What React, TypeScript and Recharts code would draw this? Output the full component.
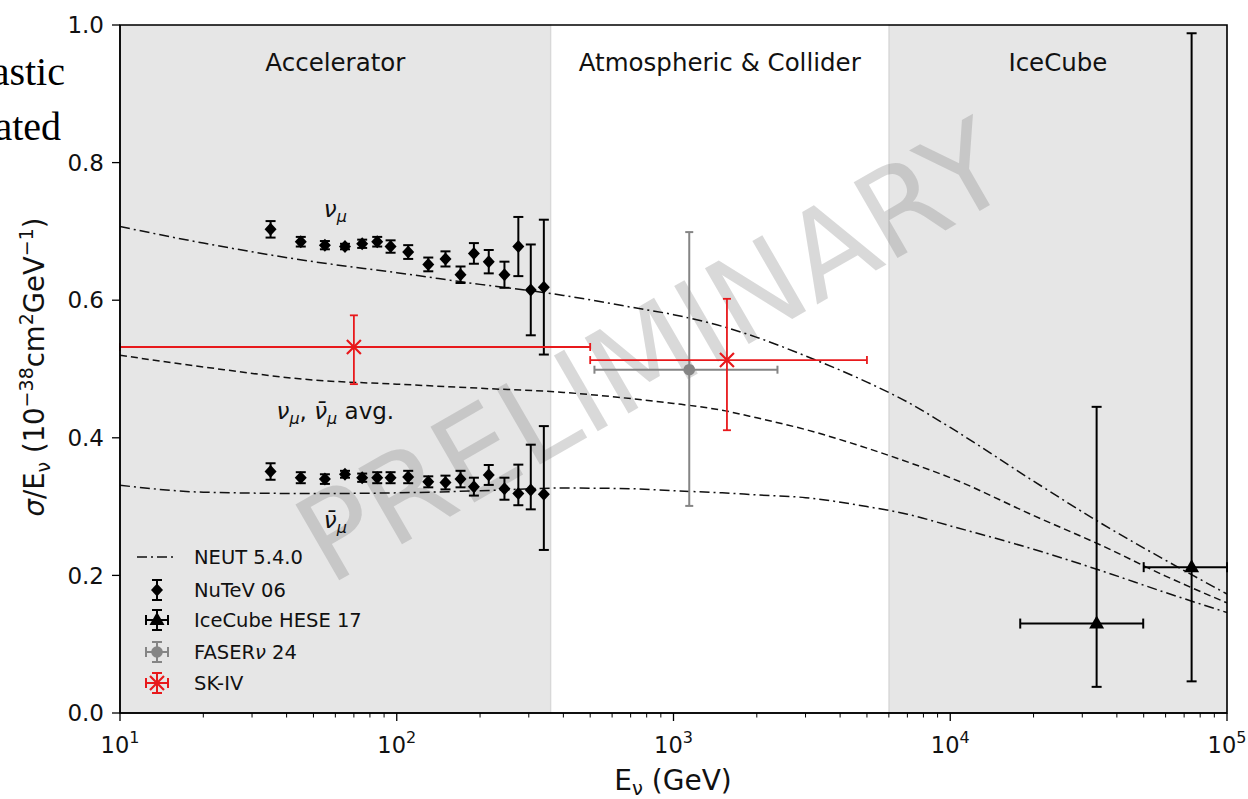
import React from "react";
import {
  ComposedChart,
  Line,
  Scatter,
  XAxis,
  YAxis,
  ErrorBar,
  ReferenceArea,
  ReferenceDot,
} from "recharts";

const FONT = "DejaVu Sans";

// NEUT 5.4.0 curves, sigma/E in 1e-38 cm^2/GeV
const neutE = [10, 20, 50, 100, 200, 400, 700, 1000, 1500, 2000, 3000, 5000, 7000, 10000, 20000, 35000, 60000, 100000];
const neutNu = [0.707, 0.683, 0.656, 0.64, 0.623, 0.607, 0.59, 0.579, 0.562, 0.546, 0.519, 0.481, 0.452, 0.415, 0.337, 0.276, 0.222, 0.173];
const neutAvg = [0.52, 0.503, 0.484, 0.478, 0.472, 0.466, 0.457, 0.45, 0.44, 0.429, 0.412, 0.385, 0.365, 0.342, 0.287, 0.244, 0.199, 0.16];
const neutNubar = [0.331, 0.321, 0.319, 0.32, 0.323, 0.327, 0.326, 0.323, 0.32, 0.317, 0.313, 0.3, 0.289, 0.272, 0.238, 0.207, 0.175, 0.146];

// NuTeV 06
const nutevE = [35, 45, 55, 65, 75, 85, 95, 110, 130, 150, 170, 190, 215, 245, 275, 305, 340];
const nutevNu = [0.703, 0.685, 0.68, 0.678, 0.682, 0.685, 0.678, 0.67, 0.652, 0.66, 0.637, 0.668, 0.656, 0.637, 0.678, 0.615, 0.619];
const nutevNuErr = [0.012, 0.007, 0.006, 0.004, 0.006, 0.007, 0.009, 0.01, 0.01, 0.011, 0.012, 0.015, 0.017, 0.019, 0.043, 0.066, 0.098];
const nutevNubar = [0.351, 0.342, 0.34, 0.347, 0.342, 0.342, 0.342, 0.343, 0.336, 0.335, 0.34, 0.329, 0.346, 0.326, 0.319, 0.324, 0.318];
const nutevNubarLo = [0.012, 0.008, 0.007, 0.005, 0.006, 0.008, 0.008, 0.009, 0.008, 0.01, 0.012, 0.013, 0.0145, 0.016, 0.017, 0.028, 0.081];
const nutevNubarHi = [0.012, 0.008, 0.007, 0.005, 0.006, 0.008, 0.008, 0.009, 0.008, 0.01, 0.012, 0.013, 0.0145, 0.016, 0.042, 0.066, 0.099];

// IceCube HESE 17 (upper bin runs past the plotted range)
const icE = [33800, 74500];
const icY = [0.13, 0.212];
const icELo = [17900, 50000];
const icEHi = [49800, 100000];
const icYLo = [0.092, 0.166];
const icYHi = [0.315, 0.776];

// FASERnu 24
const faserE = [1140];
const faserY = [0.499];
const faserELo = [518];
const faserEHi = [2375];
const faserYLo = [0.198];
const faserYHi = [0.2];

// SK-IV (lower bin runs past the plotted range)
const skE = [70, 1560];
const skY = [0.532, 0.513];
const skELo = [10, 500];
const skEHi = [500, 5000];
const skYLo = [0.054, 0.102];
const skYHi = [0.046, 0.089];

const yTicks = [0, 0.2, 0.4, 0.6, 0.8, 1.0];
const yTickLabels = ["0.0", "0.2", "0.4", "0.6", "0.8", "1.0"];
const xMajorTicks = [10, 100, 1000, 10000, 100000];
const xMajorExp = ["1", "2", "3", "4", "5"];
const xMinorTicks = [
  20, 30, 40, 50, 60, 70, 80, 90,
  200, 300, 400, 500, 600, 700, 800, 900,
  2000, 3000, 4000, 5000, 6000, 7000, 8000, 9000,
  20000, 30000, 40000, 50000, 60000, 70000, 80000, 90000,
];

const regions = [
  { x1: 10, x2: 360, label: "Accelerator", shaded: true },
  { x1: 360, x2: 6000, label: "Atmospheric & Collider", shaded: false },
  { x1: 6000, x2: 100000, label: "IceCube", shaded: true },
];

const curve = (ys: number[]) => neutE.map((x, i) => ({ x, y: ys[i] }));
const withErr = (xs: number[], ys: number[], lo: number[], hi: number[]) =>
  xs.map((x, i) => ({ x, y: ys[i], ey: [lo[i], hi[i]] }));
const withXY = (xs: number[], ys: number[], xlo: number[], xhi: number[], ylo: number[], yhi: number[]) =>
  xs.map((x, i) => ({ x, y: ys[i], ex: [x - xlo[i], xhi[i] - x], ey: [ylo[i], yhi[i]] }));

const nuData = withErr(nutevE, nutevNu, nutevNuErr, nutevNuErr);
const nubarData = withErr(nutevE, nutevNubar, nutevNubarLo, nutevNubarHi);
const icData = withXY(icE, icY, icELo, icEHi, icYLo, icYHi);
const faserData = withXY(faserE, faserY, faserELo, faserEHi, faserYLo, faserYHi);
const skData = withXY(skE, skY, skELo, skEHi, skYLo, skYHi);

const DASHDOT = "10 4 2 4";
const GREY = "#858585";
const RED = "#e8191c";

const Diamond = (p: any) => (
  <path d={`M${p.cx},${p.cy - 6.5}L${p.cx + 6},${p.cy}L${p.cx},${p.cy + 6.5}L${p.cx - 6},${p.cy}Z`} fill="#000" />
);
const Triangle = (p: any) => (
  <path d={`M${p.cx},${p.cy - 8}L${p.cx + 7.5},${p.cy + 5}L${p.cx - 7.5},${p.cy + 5}Z`} fill="#000" />
);
const Circle = (p: any) => <circle cx={p.cx} cy={p.cy} r={5.8} fill={GREY} />;
const Cross = (p: any) => (
  <path
    d={`M${p.cx - 7},${p.cy - 7}L${p.cx + 7},${p.cy + 7}M${p.cx - 7},${p.cy + 7}L${p.cx + 7},${p.cy - 7}`}
    stroke={RED}
    strokeWidth={2.2}
    fill="none"
  />
);

function XTick(props: any) {
  const { x, y, payload } = props;
  const idx = xMajorTicks.indexOf(payload.value);
  const major = idx >= 0;
  return (
    <g>
      <line x1={x} x2={x} y1={y} y2={y + (major ? 8 : 4.5)} stroke="#000" strokeWidth={major ? 1.3 : 1} />
      {major && (
        <text x={x} y={y + 40} textAnchor="middle" fontFamily={FONT} fontSize={22.5} fill="#111">
          10
          <tspan dy={-10} fontSize={16}>
            {xMajorExp[idx]}
          </tspan>
        </text>
      )}
    </g>
  );
}

function YTick(props: any) {
  const { x, y, payload } = props;
  const idx = yTicks.indexOf(payload.value);
  return (
    <g>
      <line x1={x - 8} x2={x} y1={y} y2={y} stroke="#000" strokeWidth={1.3} />
      <text x={x - 16} y={y} dy="0.36em" textAnchor="end" fontFamily={FONT} fontSize={23} fill="#111">
        {yTickLabels[idx]}
      </text>
    </g>
  );
}

const regionLabel = (text: string) => (props: any) => {
  const { x, y, width } = props.viewBox;
  return (
    <text x={x + width / 2} y={y + 46} textAnchor="middle" fontFamily={FONT} fontSize={24.5} fill="#111">
      {text}
    </text>
  );
};

const SUB = 16;
const nuLabel = (props: any) => {
  const { x, y } = props.viewBox;
  return (
    <text x={x} y={y} textAnchor="middle" fontFamily={FONT} fontSize={23} fill="#111" fontStyle="italic">
      ν<tspan fontSize={SUB} dy={5}>μ</tspan>
    </text>
  );
};
const nubarLabel = (props: any) => {
  const { x, y } = props.viewBox;
  return (
    <text x={x} y={y} textAnchor="middle" fontFamily={FONT} fontSize={23} fill="#111" fontStyle="italic">
      ν̄<tspan fontSize={SUB} dy={5}>μ</tspan>
    </text>
  );
};
const avgLabel = (props: any) => {
  const { x, y } = props.viewBox;
  return (
    <text x={x} y={y} textAnchor="middle" fontFamily={FONT} fontSize={23} fill="#111">
      <tspan fontStyle="italic">ν</tspan>
      <tspan fontStyle="italic" fontSize={SUB} dy={5}>μ</tspan>
      <tspan dy={-5}>, </tspan>
      <tspan fontStyle="italic">ν̄</tspan>
      <tspan fontStyle="italic" fontSize={SUB} dy={5}>μ</tspan>
      <tspan dy={-5}> avg.</tspan>
    </text>
  );
};

function Legend() {
  const tx = 194;
  const mx = 157;
  const rows = [557, 590, 620, 652, 683];
  const txt = (y: number, content: React.ReactNode) => (
    <text x={tx} y={y + 7} fontFamily={FONT} fontSize={19.5} fill="#111">
      {content}
    </text>
  );
  const vbar = (y: number, c: string, w: number) => (
    <g stroke={c} strokeWidth={w}>
      <line x1={mx} x2={mx} y1={y - 10} y2={y + 10} />
      <line x1={mx - 5} x2={mx + 5} y1={y - 10} y2={y - 10} />
      <line x1={mx - 5} x2={mx + 5} y1={y + 10} y2={y + 10} />
    </g>
  );
  const hbar = (y: number, c: string, w: number) => (
    <g stroke={c} strokeWidth={w}>
      <line x1={mx - 11} x2={mx + 11} y1={y} y2={y} />
      <line x1={mx - 11} x2={mx - 11} y1={y - 5} y2={y + 5} />
      <line x1={mx + 11} x2={mx + 11} y1={y - 5} y2={y + 5} />
    </g>
  );
  return (
    <g>
      <line x1={137} x2={174} y1={rows[0]} y2={rows[0]} stroke="#111" strokeWidth={1.6} strokeDasharray={DASHDOT} />
      {txt(rows[0], "NEUT 5.4.0")}
      {vbar(rows[1], "#000", 2)}
      <Diamond cx={mx} cy={rows[1]} />
      {txt(rows[1], "NuTeV 06")}
      {vbar(rows[2], "#000", 2)}
      {hbar(rows[2], "#000", 2)}
      <Triangle cx={mx} cy={rows[2]} />
      {txt(rows[2], "IceCube HESE 17")}
      {vbar(rows[3], GREY, 2)}
      {hbar(rows[3], GREY, 2)}
      <Circle cx={mx} cy={rows[3]} />
      {txt(
        rows[3],
        <>
          FASER<tspan fontStyle="italic">ν</tspan> 24
        </>
      )}
      {vbar(rows[4], RED, 2)}
      {hbar(rows[4], RED, 2)}
      <Cross cx={mx} cy={rows[4]} />
      {txt(rows[4], "SK-IV")}
    </g>
  );
}

export default function App() {
  const W = 1248;
  const H = 799;
  return (
    <div style={{ position: "absolute", left: 0, top: 0, width: W, height: H, background: "#fff" }}>
      {/* watermark sits behind the chart so the translucent bands tint it */}
      <svg width={W} height={H} style={{ position: "absolute", left: 0, top: 0 }}>
        <text
          x={652}
          y={352}
          transform="rotate(-30 652 352)"
          textAnchor="middle"
          dominantBaseline="central"
          fontFamily={FONT}
          fontSize={120}
          fill="#808080"
          fillOpacity={0.3}
        >
          PRELIMINARY
        </text>
      </svg>
      <div style={{ position: "absolute", left: 0, top: 0 }}>
        <ComposedChart width={W} height={H} margin={{ top: 25, right: 21, bottom: 36, left: 60 }}>
          <XAxis
            dataKey="x"
            type="number"
            scale="log"
            domain={[10, 100000]}
            allowDataOverflow
            ticks={[...xMajorTicks, ...xMinorTicks]}
            interval={0}
            tickSize={0}
            tickMargin={0}
            tickLine={false}
            tick={<XTick />}
            height={50}
            axisLine={{ stroke: "#000", strokeWidth: 1.3 }}
          />
          <YAxis
            dataKey="y"
            type="number"
            domain={[0, 1]}
            allowDataOverflow
            ticks={yTicks}
            interval={0}
            tickSize={0}
            tickMargin={0}
            tickLine={false}
            tick={<YTick />}
            width={60}
            axisLine={{ stroke: "#000", strokeWidth: 1.3 }}
          />
          {regions.map((r) => (
            <ReferenceArea
              key={r.label}
              x1={r.x1}
              x2={r.x2}
              y1={0}
              y2={1}
              fill={r.shaded ? "#808080" : "none"}
              fillOpacity={0.2}
              stroke={r.shaded ? "#808080" : "none"}
              strokeOpacity={0.2}
              strokeWidth={1.5}
              label={regionLabel(r.label)}
            />
          ))}
          <Line data={curve(neutNu)} dataKey="y" type="monotone" stroke="#111" strokeWidth={1.5} strokeDasharray={DASHDOT} dot={false} activeDot={false} isAnimationActive={false} />
          <Line data={curve(neutAvg)} dataKey="y" type="monotone" stroke="#111" strokeWidth={1.5} strokeDasharray="7 4" dot={false} activeDot={false} isAnimationActive={false} />
          <Line data={curve(neutNubar)} dataKey="y" type="monotone" stroke="#111" strokeWidth={1.5} strokeDasharray={DASHDOT} dot={false} activeDot={false} isAnimationActive={false} />
          <Scatter data={nuData} dataKey="y" shape={Diamond} isAnimationActive={false}>
            <ErrorBar dataKey="ey" direction="y" width={5} stroke="#000" strokeWidth={2} />
          </Scatter>
          <Scatter data={nubarData} dataKey="y" shape={Diamond} isAnimationActive={false}>
            <ErrorBar dataKey="ey" direction="y" width={5} stroke="#000" strokeWidth={2} />
          </Scatter>
          <Scatter data={faserData} dataKey="y" shape={Circle} isAnimationActive={false}>
            <ErrorBar dataKey="ex" direction="x" width={4} stroke={GREY} strokeWidth={2} />
            <ErrorBar dataKey="ey" direction="y" width={4} stroke={GREY} strokeWidth={2} />
          </Scatter>
          <Scatter data={skData} dataKey="y" shape={Cross} isAnimationActive={false}>
            <ErrorBar dataKey="ex" direction="x" width={4} stroke={RED} strokeWidth={1.8} />
            <ErrorBar dataKey="ey" direction="y" width={4} stroke={RED} strokeWidth={1.8} />
          </Scatter>
          <Scatter data={icData} dataKey="y" shape={Triangle} isAnimationActive={false}>
            <ErrorBar dataKey="ex" direction="x" width={5} stroke="#000" strokeWidth={2} />
            <ErrorBar dataKey="ey" direction="y" width={5} stroke="#000" strokeWidth={2} />
          </Scatter>
          <ReferenceDot x={60} y={0.721} r={0} fill="none" stroke="none" label={nuLabel} />
          <ReferenceDot x={60} y={0.427} r={0} fill="none" stroke="none" label={avgLabel} />
          <ReferenceDot x={60} y={0.2685} r={0} fill="none" stroke="none" label={nubarLabel} />
          <ReferenceArea
            x1={10}
            x2={100000}
            y1={0}
            y2={1}
            fill="none"
            stroke="#000"
            strokeWidth={1.6}
            zIndex={1500}
          />
        </ComposedChart>
      </div>
      <svg width={W} height={H} style={{ position: "absolute", left: 0, top: 0, pointerEvents: "none" }}>
        <text x={65} y={85} textAnchor="end" fontFamily="Liberation Serif" fontSize={40} fill="#000">
          astic
        </text>
        <text x={61} y={140} textAnchor="end" fontFamily="Liberation Serif" fontSize={40} fill="#000">
          ated
        </text>
        <text transform="translate(44 367) rotate(-90)" textAnchor="middle" fontFamily={FONT} fontSize={27.5} fill="#111">
          <tspan fontStyle="italic">σ</tspan>/E<tspan fontSize={19} dy={6}>ν</tspan>
          <tspan dy={-6}> (10</tspan>
          <tspan fontSize={19} dy={-11}>−38</tspan>
          <tspan dy={11}>cm</tspan>
          <tspan fontSize={19} dy={-11}>2</tspan>
          <tspan dy={11}>GeV</tspan>
          <tspan fontSize={19} dy={-11}>−1</tspan>
          <tspan dy={11}>)</tspan>
        </text>
        <text x={673} y={790} textAnchor="middle" fontFamily={FONT} fontSize={28} fill="#111">
          E<tspan fontSize={19.5} dy={5}>ν</tspan>
          <tspan dy={-5}> (GeV)</tspan>
        </text>
        <Legend />
      </svg>
    </div>
  );
}
